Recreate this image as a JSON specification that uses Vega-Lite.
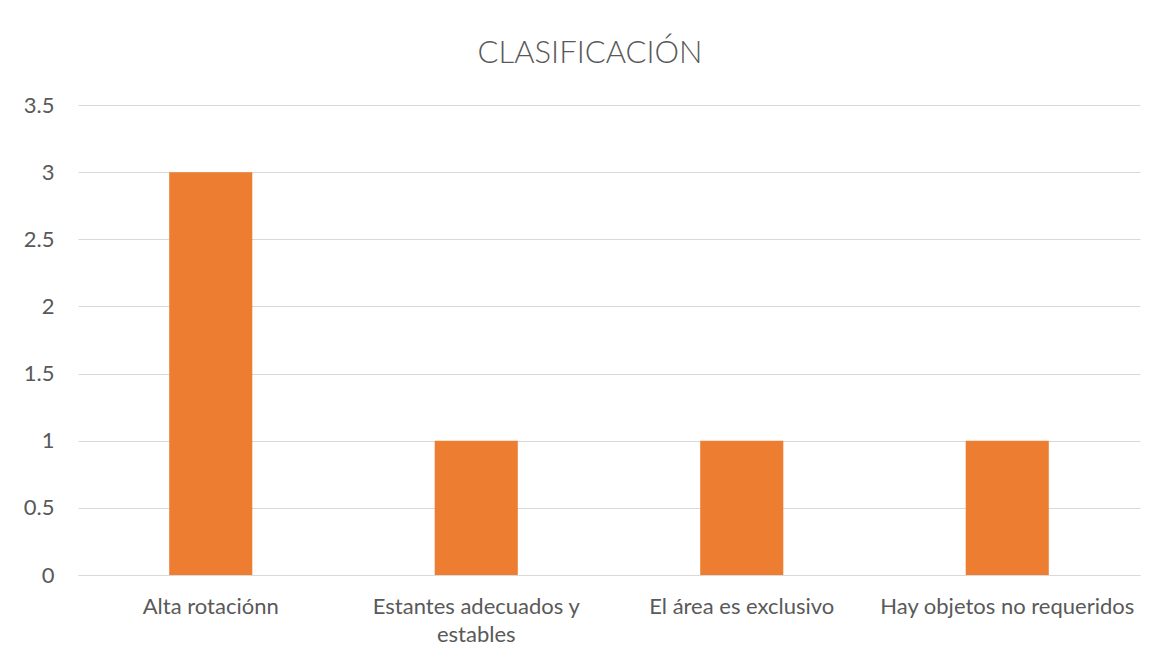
{
  "$schema": "https://vega.github.io/schema/vega-lite/v6.json",
  "autosize": {"type": "none"},
  "padding": {"left": 78, "top": 105, "right": 29, "bottom": 89},
  "width": 1062,
  "height": 470,
  "background": "white",
  "title": {
    "text": "CLASIFICACIÓN",
    "font": "Lato",
    "fontSize": 31,
    "fontWeight": 300,
    "color": "#595959",
    "anchor": "middle",
    "frame": "group",
    "dx": -19,
    "baseline": "alphabetic",
    "offset": 0
  },
  "data": {
    "values": [
      {"categoria": "Alta rotaciónn", "valor": 3},
      {"categoria": "Estantes adecuados y estables", "valor": 1},
      {"categoria": "El área es exclusivo", "valor": 1},
      {"categoria": "Hay objetos no requeridos", "valor": 1}
    ]
  },
  "mark": {"type": "bar", "color": "#ED7D31"},
  "encoding": {
    "x": {
      "field": "categoria",
      "type": "nominal",
      "sort": null,
      "scale": {"paddingInner": 0.687, "paddingOuter": 0.3435},
      "axis": {
        "title": null,
        "labelAngle": 0,
        "labelFont": "Lato",
        "labelFontSize": 22,
        "labelColor": "#595959",
        "labelPadding": 21,
        "labelLineHeight": 28,
        "labelLimit": 0,
        "ticks": false,
        "domainColor": "#D9D9D9",
        "domainWidth": 1,
        "labelExpr": "datum.label == 'Estantes adecuados y estables' ? ['Estantes adecuados y', 'estables'] : datum.label"
      }
    },
    "y": {
      "field": "valor",
      "type": "quantitative",
      "scale": {"domain": [0, 3.5]},
      "axis": {
        "title": null,
        "values": [0, 0.5, 1, 1.5, 2, 2.5, 3, 3.5],
        "format": ".1~f",
        "labelFont": "Lato",
        "labelFontSize": 22,
        "labelColor": "#595959",
        "labelPadding": 24,
        "ticks": false,
        "domain": false,
        "grid": true,
        "gridColor": "#D9D9D9",
        "gridWidth": 1
      }
    }
  },
  "config": {"view": {"stroke": null}}
}
